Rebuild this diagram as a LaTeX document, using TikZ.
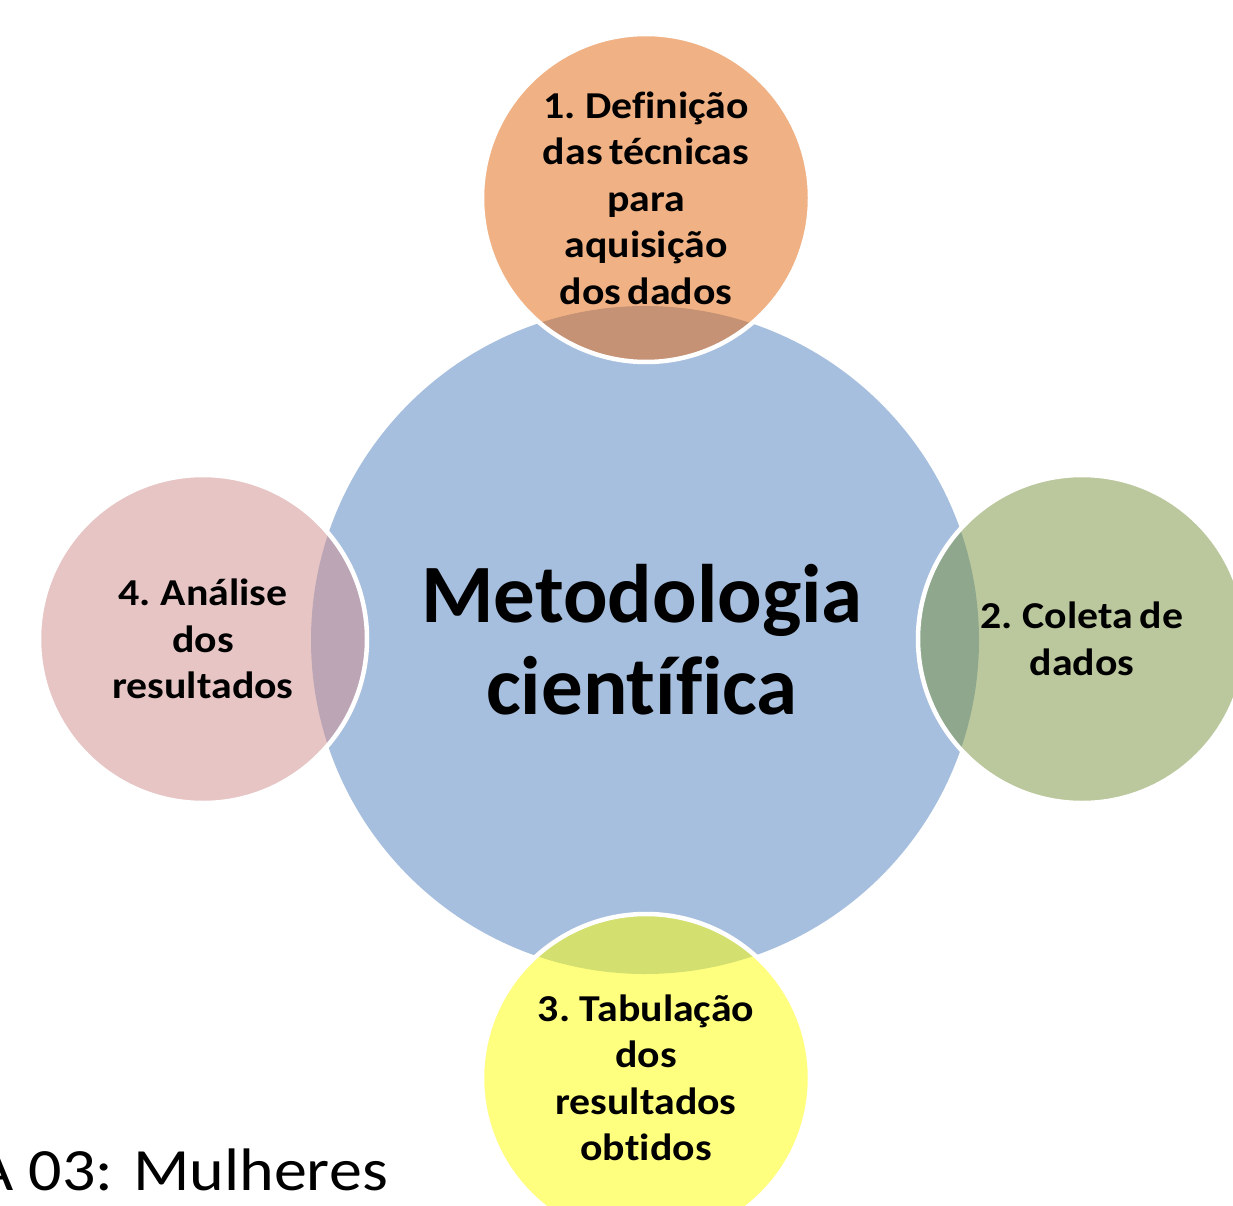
\documentclass[tikz,border=0pt]{standalone}
\usepackage{fontspec}
\setmainfont{Carlito}[Ligatures=NoCommon]
\newfontfamily\widefont[FakeStretch=1.1,WordSpace=0.7,Ligatures=NoCommon]{Carlito}
\newfontfamily\capfont[FakeStretch=1.1]{Carlito}
\definecolor{cblue}{RGB}{167,191,222}
\definecolor{corange}{RGB}{227,103,13}
\definecolor{cgreen}{RGB}{121,147,61}
\definecolor{cpink}{RGB}{209,141,141}
\definecolor{cyellow}{RGB}{255,255,1}
\tikzset{
  smallcirc/.style={circle, minimum size=328pt, inner sep=0pt, fill opacity=0.5, text opacity=1, draw=white, draw opacity=1, line width=4.5pt, align=center, font=\widefont\bfseries\fontsize{38}{46.5}\selectfont},
  bigcirc/.style={circle, minimum size=668pt, inner sep=0pt, fill=cblue},
  centertext/.style={align=center, font=\bfseries\fontsize{83}{92}\selectfont},
}
\begin{document}
\begin{tikzpicture}[x=1pt,y=-1pt]
\useasboundingbox (0,0) rectangle (1233,1206);
\clip (0,0) rectangle (1233,1206);
\fill[white] (0,0) rectangle (1233,1206);
\node[bigcirc] (main) at (645,640) {};
\node[smallcirc, fill=corange] (c1) at (646,198) {1. Definição\\das técnicas\\para\\aquisição\\dos dados};
\node[smallcirc, fill=cgreen] (c2) at (1082,639) {2. Coleta de\\dados};
\node[smallcirc, fill=cyellow] (c3) at (646,1078) {3. Tabulação\\dos\\resultados\\obtidos};
\node[smallcirc, fill=cpink] (c4) at (203,639) {4. Análise\\dos\\resultados};
\node[centertext] (mt) at (642,640) {Metodologia\\científica};
\node[anchor=base east, inner sep=0pt, font=\capfont\fontsize{60}{62}\selectfont] (cap) at (388,1190) {A 03: Mulheres};
\end{tikzpicture}
\end{document}
